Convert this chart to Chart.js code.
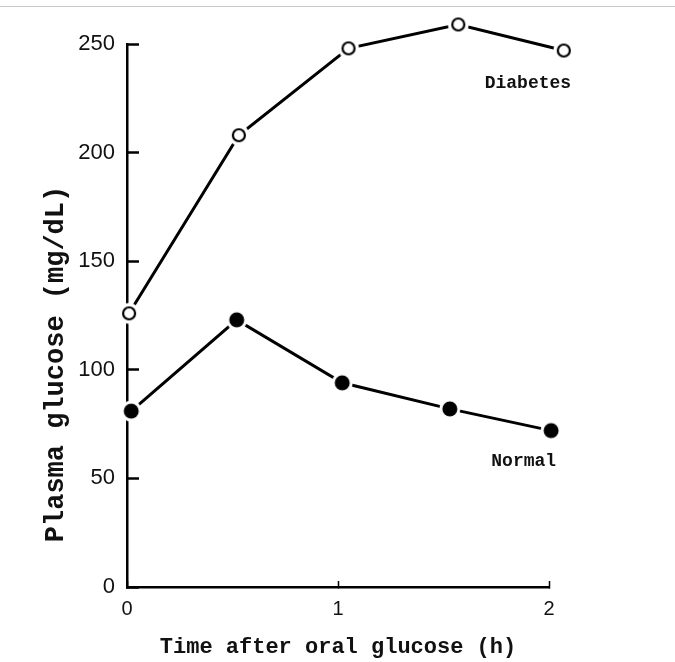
<!DOCTYPE html>
<html>
<head>
<meta charset="utf-8">
<script src="https://cdn.jsdelivr.net/npm/chart.js@4"></script>
<style>
  body { margin: 0; background: #fff; }
  .wrap { position: relative; width: 675px; height: 662px; }
  .topline { position: absolute; left: 0; right: 0; top: 6px; border-top: 1px solid #c8c8c8; }
</style>
</head>
<body>
<div class="wrap">
  <canvas id="glucoseChart" width="675" height="662"></canvas>
  <div class="topline"></div>
</div>
<script>
// Values (hours after the drink, plasma glucose in mg/dL)
const diabetesHours = [0.01, 0.53, 1.05, 1.57, 2.07];
const diabetesGlucose = [126, 208, 248, 259, 247];
const normalHours = [0.02, 0.52, 1.02, 1.53, 2.01];
const normalGlucose = [81, 123, 94, 82, 72];
const seriesNames = ['Diabetes', 'Normal'];
const yTicks = [0, 50, 100, 150, 200, 250];
const xTicks = [0, 1, 2];

// Marker with a white halo, so the line stops short of it like in the scan
function marker(filled) {
    const c = document.createElement('canvas');
    c.width = 24;
    c.height = 24;
    const ctx = c.getContext('2d');
    ctx.fillStyle = '#fff';
    ctx.beginPath();
    ctx.arc(12, 12, 10.5, 0, Math.PI * 2);
    ctx.fill();
    ctx.beginPath();
    ctx.arc(12, 12, filled ? 7.5 : 6, 0, Math.PI * 2);
    if (filled) {
        ctx.fillStyle = '#000';
        ctx.fill();
    } else {
        ctx.strokeStyle = '#000';
        ctx.lineWidth = 2.2;
        ctx.stroke();
    }
    return c;
}

// Curve names written next to the curves
const curveLabels = {
    id: 'curveLabels',
    afterDatasetsDraw(chart) {
        const { ctx, scales: { x, y } } = chart;
        const spots = [[1.9, 232], [1.88, 58]];
        ctx.save();
        ctx.fillStyle = '#111';
        ctx.font = 'bold 18px "Liberation Mono"';
        ctx.textAlign = 'center';
        ctx.textBaseline = 'middle';
        seriesNames.forEach((name, i) => {
            ctx.fillText(name, x.getPixelForValue(spots[i][0]), y.getPixelForValue(spots[i][1]));
        });
        ctx.restore();
    }
};

// Y title sits lower than the axis centre in the original
const yTitle = {
    id: 'yTitle',
    afterDraw(chart) {
        const { ctx } = chart;
        ctx.save();
        ctx.translate(56, 364);
        ctx.rotate(-Math.PI / 2);
        ctx.fillStyle = '#111';
        ctx.font = 'bold 27px "Liberation Mono"';
        ctx.textAlign = 'center';
        ctx.textBaseline = 'middle';
        ctx.fillText('Plasma glucose (mg/dL)', 0, 0);
        ctx.restore();
    }
};

const glucoseChart = new Chart(document.getElementById('glucoseChart'), {
    type: 'line',
    data: {
        datasets: [{
            label: seriesNames[0],
            data: diabetesHours.map((h, i) => ({ x: h, y: diabetesGlucose[i] })),
            borderColor: '#000',
            borderWidth: 3,
            pointStyle: marker(false),
            pointRadius: 24,   // only widens the in-area check, the image sets the size
            pointBorderWidth: 0,
            clip: false
        }, {
            label: seriesNames[1],
            data: normalHours.map((h, i) => ({ x: h, y: normalGlucose[i] })),
            borderColor: '#000',
            borderWidth: 3,
            pointStyle: marker(true),
            pointRadius: 24,
            pointBorderWidth: 0,
            clip: false
        }]
    },
    options: {
        responsive: false,
        animation: false,
        devicePixelRatio: 1,
        layout: {
            padding: { left: 0, right: 126, top: 44, bottom: 0 }
        },
        scales: {
            x: {
                type: 'linear',
                min: 0,
                max: 2,
                afterFit: (scale) => { scale.height = 75; },
                afterBuildTicks: (scale) => { scale.ticks = xTicks.map(v => ({ value: v })); },
                border: { color: '#000', width: 2.5 },
                grid: { drawOnChartArea: false, tickLength: -6, tickWidth: 1.5, color: '#000' },
                ticks: {
                    color: '#111',
                    padding: 16,
                    font: { family: '"Liberation Sans"', size: 20 }
                },
                title: {
                    display: true,
                    text: 'Time after oral glucose (h)',
                    color: '#111',
                    font: { family: '"Liberation Mono"', size: 22, weight: 'bold' },
                    padding: { top: 0, bottom: 1 }
                }
            },
            y: {
                min: 0,
                max: 250,
                afterFit: (scale) => { scale.width = 127; },
                afterBuildTicks: (scale) => { scale.ticks = yTicks.map(v => ({ value: v })); },
                border: { color: '#000', width: 2.5 },
                grid: { drawOnChartArea: false, tickLength: -12, tickWidth: 2.5, color: '#000' },
                ticks: {
                    color: '#111',
                    padding: 24,
                    font: { family: '"Liberation Sans"', size: 22 }
                }
            }
        },
        plugins: {
            legend: { display: false },
            tooltip: { enabled: false }
        }
    },
    plugins: [curveLabels, yTitle]
});
</script>
</body>
</html>
